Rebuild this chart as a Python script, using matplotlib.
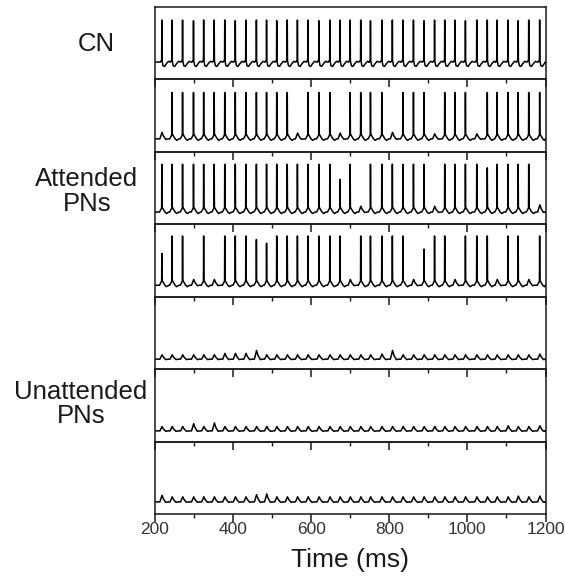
import matplotlib.pyplot as plt
from matplotlib.ticker import MultipleLocator

plt.rcParams['font.family'] = ['Liberation Sans', 'DejaVu Sans']

# cycle times (ms)
cycle_t = [218, 244, 271, 299, 325, 352, 379, 406, 433, 460, 486, 512, 539,
           565, 592, 620, 648, 674, 700, 727, 752, 781, 808, 835, 862, 889,
           916, 942, 968, 995, 1024, 1051, 1076, 1104, 1130, 1157, 1185]

# event height per cycle (fraction of panel height): big = spike, small = EPSP
amp_cn = [0.58, 0.58, 0.58, 0.57, 0.58, 0.58, 0.58, 0.57, 0.58, 0.58, 0.58, 0.57, 0.58,
          0.58, 0.58, 0.57, 0.58, 0.58, 0.58, 0.58, 0.57, 0.58, 0.58, 0.58, 0.58, 0.57,
          0.58, 0.58, 0.58, 0.57, 0.58, 0.58, 0.58, 0.58, 0.57, 0.58, 0.58]
amp_pn1 = [0.09, 0.64, 0.64, 0.64, 0.64, 0.64, 0.64, 0.64, 0.64, 0.64, 0.64, 0.64, 0.64,
           0.08, 0.64, 0.64, 0.64, 0.08, 0.64, 0.64, 0.64, 0.64, 0.09, 0.64, 0.64, 0.64,
           0.07, 0.64, 0.64, 0.64, 0.07, 0.64, 0.64, 0.64, 0.64, 0.64, 0.64]
amp_pn2 = [0.66, 0.66, 0.66, 0.66, 0.66, 0.66, 0.66, 0.66, 0.66, 0.66, 0.66, 0.66, 0.66,
           0.66, 0.66, 0.66, 0.66, 0.45, 0.66, 0.08, 0.66, 0.66, 0.66, 0.66, 0.66, 0.66,
           0.08, 0.66, 0.66, 0.66, 0.66, 0.61, 0.66, 0.66, 0.66, 0.66, 0.10]
amp_pn3 = [0.44, 0.68, 0.68, 0.08, 0.68, 0.08, 0.68, 0.68, 0.68, 0.63, 0.58, 0.68, 0.68,
           0.68, 0.68, 0.68, 0.68, 0.68, 0.08, 0.68, 0.68, 0.68, 0.68, 0.68, 0.08, 0.50,
           0.68, 0.68, 0.08, 0.68, 0.68, 0.68, 0.08, 0.68, 0.68, 0.08, 0.68]
amp_un1 = [0.06, 0.06, 0.06, 0.06, 0.06, 0.06, 0.08, 0.08, 0.08, 0.12, 0.06, 0.06, 0.06,
           0.06, 0.06, 0.06, 0.06, 0.06, 0.06, 0.06, 0.06, 0.07, 0.12, 0.06, 0.06, 0.06,
           0.06, 0.06, 0.06, 0.06, 0.06, 0.06, 0.06, 0.06, 0.06, 0.06, 0.07]
amp_un2 = [0.06, 0.06, 0.06, 0.10, 0.06, 0.11, 0.06, 0.06, 0.06, 0.06, 0.06, 0.06, 0.06,
           0.06, 0.06, 0.06, 0.06, 0.06, 0.06, 0.06, 0.06, 0.06, 0.06, 0.06, 0.06, 0.06,
           0.06, 0.06, 0.06, 0.06, 0.06, 0.06, 0.06, 0.07, 0.06, 0.06, 0.07]
amp_un3 = [0.09, 0.07, 0.07, 0.07, 0.07, 0.07, 0.07, 0.07, 0.07, 0.10, 0.11, 0.07, 0.07,
           0.07, 0.07, 0.07, 0.07, 0.07, 0.07, 0.07, 0.07, 0.07, 0.07, 0.07, 0.07, 0.07,
           0.07, 0.07, 0.07, 0.07, 0.07, 0.07, 0.07, 0.07, 0.08, 0.07, 0.08]

panel_amps = [amp_cn, amp_pn1, amp_pn2, amp_pn3, amp_un1, amp_un2, amp_un3]
panel_base = [0.24, 0.18, 0.17, 0.16, 0.14, 0.15, 0.17]

group_labels = ["CN", "Attended\nPNs", "Unattended\nPNs"]
label_pos = [(0.170, 0.9245), (0.154, 0.671), (0.1434, 0.307)]

x_range = (200, 1200)

# shape of one event around its time: (dt in ms, fraction of event height, extra offset)
SPIKE_SHAPE = [(-6, 0, 0.0), (-2, 0, 0.04), (-0.5, 0, 0.06), (0, 1, 0.0), (0.6, 0, 0.07),
               (3, 0, 0.045), (8, 0, 0.0), (12, 0, -0.02), (18, 0, 0.0)]
CN_SHAPE = [(-4, 0, 0.0), (-0.5, 0, 0.03), (0, 1, 0.0), (0.6, 0, 0.02), (3, 0, -0.05),
            (7, 0, -0.06), (12, 0, -0.02), (17, 0, 0.01), (22, 0, 0.0)]
EPSP_SHAPE = [(-5, 0, 0.0), (0.5, 1, 0.0), (4, 0.45, 0.0), (10, 0, -0.006), (16, 0, 0.0)]


def build_trace(times, amps, base, spike_shape):
    xs = [x_range[0]]
    ys = [base]
    for t, a in zip(times, amps):
        shape = spike_shape if a > 0.2 else EPSP_SHAPE
        for dt, frac, off in shape:
            xs.append(t + dt)
            ys.append(base + frac * a + off)
    xs.append(x_range[1])
    ys.append(base)
    return xs, ys


fig, axes = plt.subplots(7, 1, sharex=True, figsize=(5.65, 5.83), dpi=100)
fig.subplots_adjust(left=0.274, right=0.9655, top=0.988, bottom=0.118, hspace=0)

for i, ax in enumerate(axes):
    shape = CN_SHAPE if i == 0 else SPIKE_SHAPE
    xs, ys = build_trace(cycle_t, panel_amps[i], panel_base[i], shape)
    ax.plot(xs, ys, color="black", linewidth=1.1)
    ax.set_xlim(*x_range)
    ax.set_ylim(0, 1)
    ax.set_facecolor("none")
    ax.set_yticks([])
    for s in ax.spines.values():
        s.set_linewidth(1.1)
        s.set_color("#1a1a1a")
    ax.xaxis.set_major_locator(MultipleLocator(200))
    ax.xaxis.set_minor_locator(MultipleLocator(100))
    ax.tick_params(axis="x", which="major", direction="out", length=5.5, width=1.1,
                   color="#1a1a1a", labelsize=12.5, labelcolor="#333333", pad=0)
    ax.tick_params(axis="x", which="minor", direction="out", length=3, width=1.0,
                   color="#1a1a1a")
    if i < 6:
        ax.tick_params(axis="x", labelbottom=False)

axes[-1].set_xlabel("Time (ms)", fontsize=19, color="#1a1a1a", labelpad=8)

for lab, (x, y) in zip(group_labels, label_pos):
    fig.text(x, y, lab, ha="center", va="center", fontsize=18.5, color="#1a1a1a",
             linespacing=1.05)

fig.savefig("out.png", dpi=100)
